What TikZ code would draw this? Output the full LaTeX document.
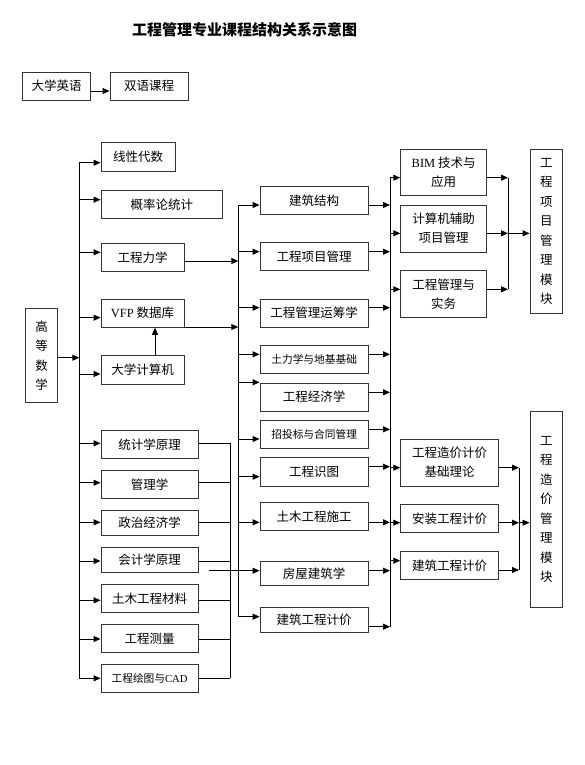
\documentclass[tikz,border=0pt]{standalone}
\usepackage{fontspec}
\setmainfont{Liberation Serif}
\newfontfamily\cjk{Noto Sans CJK SC}
\usetikzlibrary{arrows.meta}
\newcommand\mybox[7][]{%
  \node[box,#1,minimum width={(#5-#3)*1pt},minimum height={(#6-#4)*1pt}] (#2) at ({(#3+#5)/2},{(#4+#6)/2}) {#7};}
\begin{document}
\begin{tikzpicture}[x=1pt,y=-1pt,
  box/.style={draw=black!80,line width=0.9pt,inner sep=0pt,align=center,
    font=\cjk\fontsize{12.5}{19}\selectfont},
  small/.style={font=\cjk\fontsize{10.7}{13}\selectfont},
  vert/.style={font=\cjk\fontsize{12.5}{19.5}\selectfont},
  ln/.style={line width=0.9pt},
  arr/.style={ln,-{Triangle[length=7pt,width=6pt]}}]
\useasboundingbox (0,0) rectangle (584,765);

% title
\node[font=\cjk\bfseries\fontsize{15}{18}\selectfont] (title) at (244.7,30) {工程管理专业课程结构关系示意图};

% top row
\mybox{eng}{22.7}{72.3}{90.7}{100}{大学英语}
\mybox{bil}{110}{72.3}{188.3}{100}{双语课程}
\draw[arr] (eng.east |- 0,91) -- (bil.west |- 0,91);

% left column
\mybox[vert]{gs}{25.7}{308.3}{57.7}{402.7}{高\\等\\数\\学}
\mybox{xx}{101}{142.7}{175}{171}{线性代数}
\mybox{gl}{101}{190.3}{222.7}{218.3}{概率论统计}
\mybox{lx}{101}{243.3}{184}{271.3}{工程力学}
\mybox{vfp}{101}{299}{184}{327.3}{\textrm{VFP} 数据库}
\mybox{dj}{101}{355.7}{184}{384}{大学计算机}
\mybox{tj}{101}{430.3}{198.3}{458.3}{统计学原理}
\mybox{glx}{101}{470.3}{198.3}{498.3}{管理学}
\mybox{zz}{101}{510.7}{198.3}{535.7}{政治经济学}
\mybox{kj}{101}{547.3}{198.3}{572.3}{会计学原理}
\mybox{tm}{101}{584.3}{198.3}{612.3}{土木工程材料}
\mybox{cl}{101}{624.3}{198.3}{652.3}{工程测量}
\mybox[small]{ht}{101}{664.3}{198.3}{692.3}{工程绘图与\textrm{CAD}}

\coordinate (Lt) at (79.3,162.7);
\coordinate (Lb) at (79.3,678.3);
\draw[ln] (Lt) -- (Lb);
\draw[arr] (gs.east |- 0,357.7) -- (Lt |- 0,357.7);
\foreach \n/\y in {xx/162.7,gl/199.7,lx/252.3,vfp/317.7,dj/374,tj/443.3,glx/482.7,zz/522.3,kj/561,tm/600.3,cl/639,ht/678.3}
  \draw[arr] (Lt |- 0,\y) -- (\n.west |- 0,\y);
\draw[arr] (dj.north -| 155,0) -- (vfp.south -| 155,0);

% bracket of lower left boxes
\coordinate (Bt) at (230,443);
\coordinate (Bb) at (230,678);
\draw[ln] (Bt) -- (Bb);
\foreach \n/\y in {tj/443,glx/482.7,zz/522,kj/561,tm/600,cl/639,ht/678}
  \draw[ln] (\n.east |- 0,\y) -- (Bt |- 0,\y);
\coordinate (Bo) at (209,570.7);

% middle column
\mybox{jg}{260}{186.7}{368.3}{214.3}{建筑结构}
\mybox{xm}{260}{242.7}{368.3}{270.7}{工程项目管理}
\mybox{yc}{260}{299}{368.3}{327}{工程管理运筹学}
\mybox[small]{tl}{260}{345.7}{368.3}{373.7}{土力学与地基基础}
\mybox{jj}{260}{383.3}{368.3}{411}{工程经济学}
\mybox[small]{zt}{260}{420.7}{368.3}{448.3}{招投标与合同管理}
\mybox{st}{260}{457.7}{368.3}{486}{工程识图}
\mybox{sg}{260}{502.7}{368.3}{530.7}{土木工程施工}
\mybox{fw}{260}{561}{368.3}{585.7}{房屋建筑学}
\mybox{jjj}{260}{607.3}{368.3}{632.3}{建筑工程计价}

\draw[arr] (Bo) -- (fw.west |- Bo);

\coordinate (Mt) at (238.3,205);
\coordinate (Mb) at (238.3,616.7);
\draw[ln] (Mt) -- (Mb);
\draw[arr] (lx.east |- 0,261) -- (Mt |- 0,261);
\draw[arr] (vfp.east |- 0,327) -- (Mt |- 0,327);
\foreach \n/\y in {jg/205,xm/251.7,yc/307.7,tl/354.3,jj/382.3,zt/439,st/476.7,sg/522.3,jjj/616.7}
  \draw[arr] (Mt |- 0,\y) -- (\n.west |- 0,\y);

% right trunk
\coordinate (Rt) at (390,177.7);
\coordinate (Rb) at (390,626.7);
\draw[ln] (Rt) -- (Rb);
\foreach \n/\y in {jg/205,xm/251.7,yc/307.7,tl/354.3,jj/392.3,zt/429.3,st/466.7,sg/522.3,fw/570.7,jjj/626.7}
  \draw[arr] (\n.east |- 0,\y) -- (Rt |- 0,\y);

% right boxes
\mybox{bim}{400.7}{149}{486.7}{195.7}{\textrm{BIM} 技术与\\应用}
\mybox{jsj}{400.7}{205.3}{486.7}{252}{计算机辅助\\项目管理}
\mybox{sw}{400.7}{270.7}{486.7}{317.3}{工程管理与\\实务}
\mybox{zj}{400.7}{439.3}{498.3}{486}{工程造价计价\\基础理论}
\mybox{az}{400.7}{504.3}{498.3}{532.7}{安装工程计价}
\mybox{jz}{400.7}{551.7}{498.3}{579.3}{建筑工程计价}
\foreach \n/\y in {bim/177.7,jsj/233.3,sw/289.3,zj/467.7,az/522.7,jz/560.7}
  \draw[arr] (Rt |- 0,\y) -- (\n.west |- 0,\y);

% modules
\mybox[vert]{ma}{530}{149.3}{562.7}{313.3}{工\\程\\项\\目\\管\\理\\模\\块}
\mybox[vert]{mb}{530}{411.7}{562.7}{607.7}{工\\程\\造\\价\\管\\理\\模\\块}

\coordinate (P1t) at (508,177.7);
\coordinate (P1b) at (508,289.3);
\draw[ln] (P1t) -- (P1b);
\foreach \n/\y in {bim/177.7,jsj/233.3,sw/289.3}
  \draw[arr] (\n.east |- 0,\y) -- (P1t |- 0,\y);
\draw[arr] (P1t |- 0,233.3) -- (ma.west |- 0,233.3);

\coordinate (P2t) at (519,467.7);
\coordinate (P2b) at (519,570);
\draw[ln] (P2t) -- (P2b);
\foreach \n/\y in {zj/467.7,az/522.7,jz/570}
  \draw[arr] (\n.east |- 0,\y) -- (P2t |- 0,\y);
\draw[arr] (P2t |- 0,522.7) -- (mb.west |- 0,522.7);
\end{tikzpicture}
\end{document}
